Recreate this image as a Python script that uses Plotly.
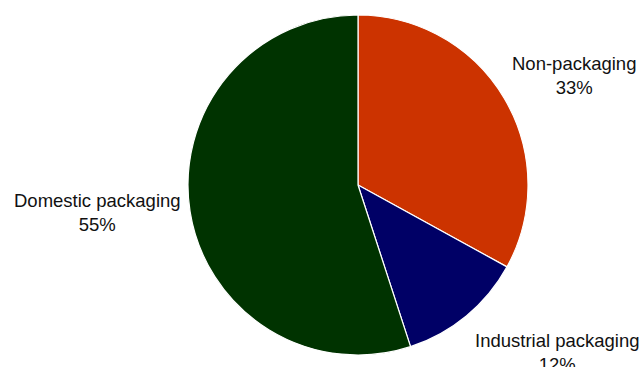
import plotly.graph_objects as go

# Share of waste by source
categories = ["Non-packaging", "Industrial packaging", "Domestic packaging"]
shares = [33, 12, 55]
colors = ["#CC3300", "#000066", "#003300"]

W, H = 642, 367
cx, cy, r = 358, 185, 170  # pie centre and radius in pixels

# Label block centres in pixels (outside the pie)
label_xy = [(574, 76), (557, 352), (97, 212)]

fig = go.Figure(
    go.Pie(
        labels=categories,
        values=shares,
        sort=False,
        direction="clockwise",
        rotation=0,
        marker=dict(colors=colors, line=dict(color="white", width=1.2)),
        textinfo="none",
        hoverinfo="label+percent",
        domain=dict(
            x=[(cx - r) / W, (cx + r) / W],
            y=[1 - (cy + r) / H, 1 - (cy - r) / H],
        ),
    )
)

for name, val, (x, y) in zip(categories, shares, label_xy):
    fig.add_annotation(
        x=x / W, y=1 - y / H, xref="paper", yref="paper",
        text=f"{name}<br>{val}%", showarrow=False,
        xanchor="center", yanchor="middle", align="center",
        font=dict(family="Liberation Sans, Arial, sans-serif", size=18.5, color="#111111"),
    )

fig.update_layout(
    width=W, height=H,
    margin=dict(l=0, r=0, t=0, b=0),
    paper_bgcolor="white", plot_bgcolor="white",
    showlegend=False,
)

fig.write_html("out.html")
